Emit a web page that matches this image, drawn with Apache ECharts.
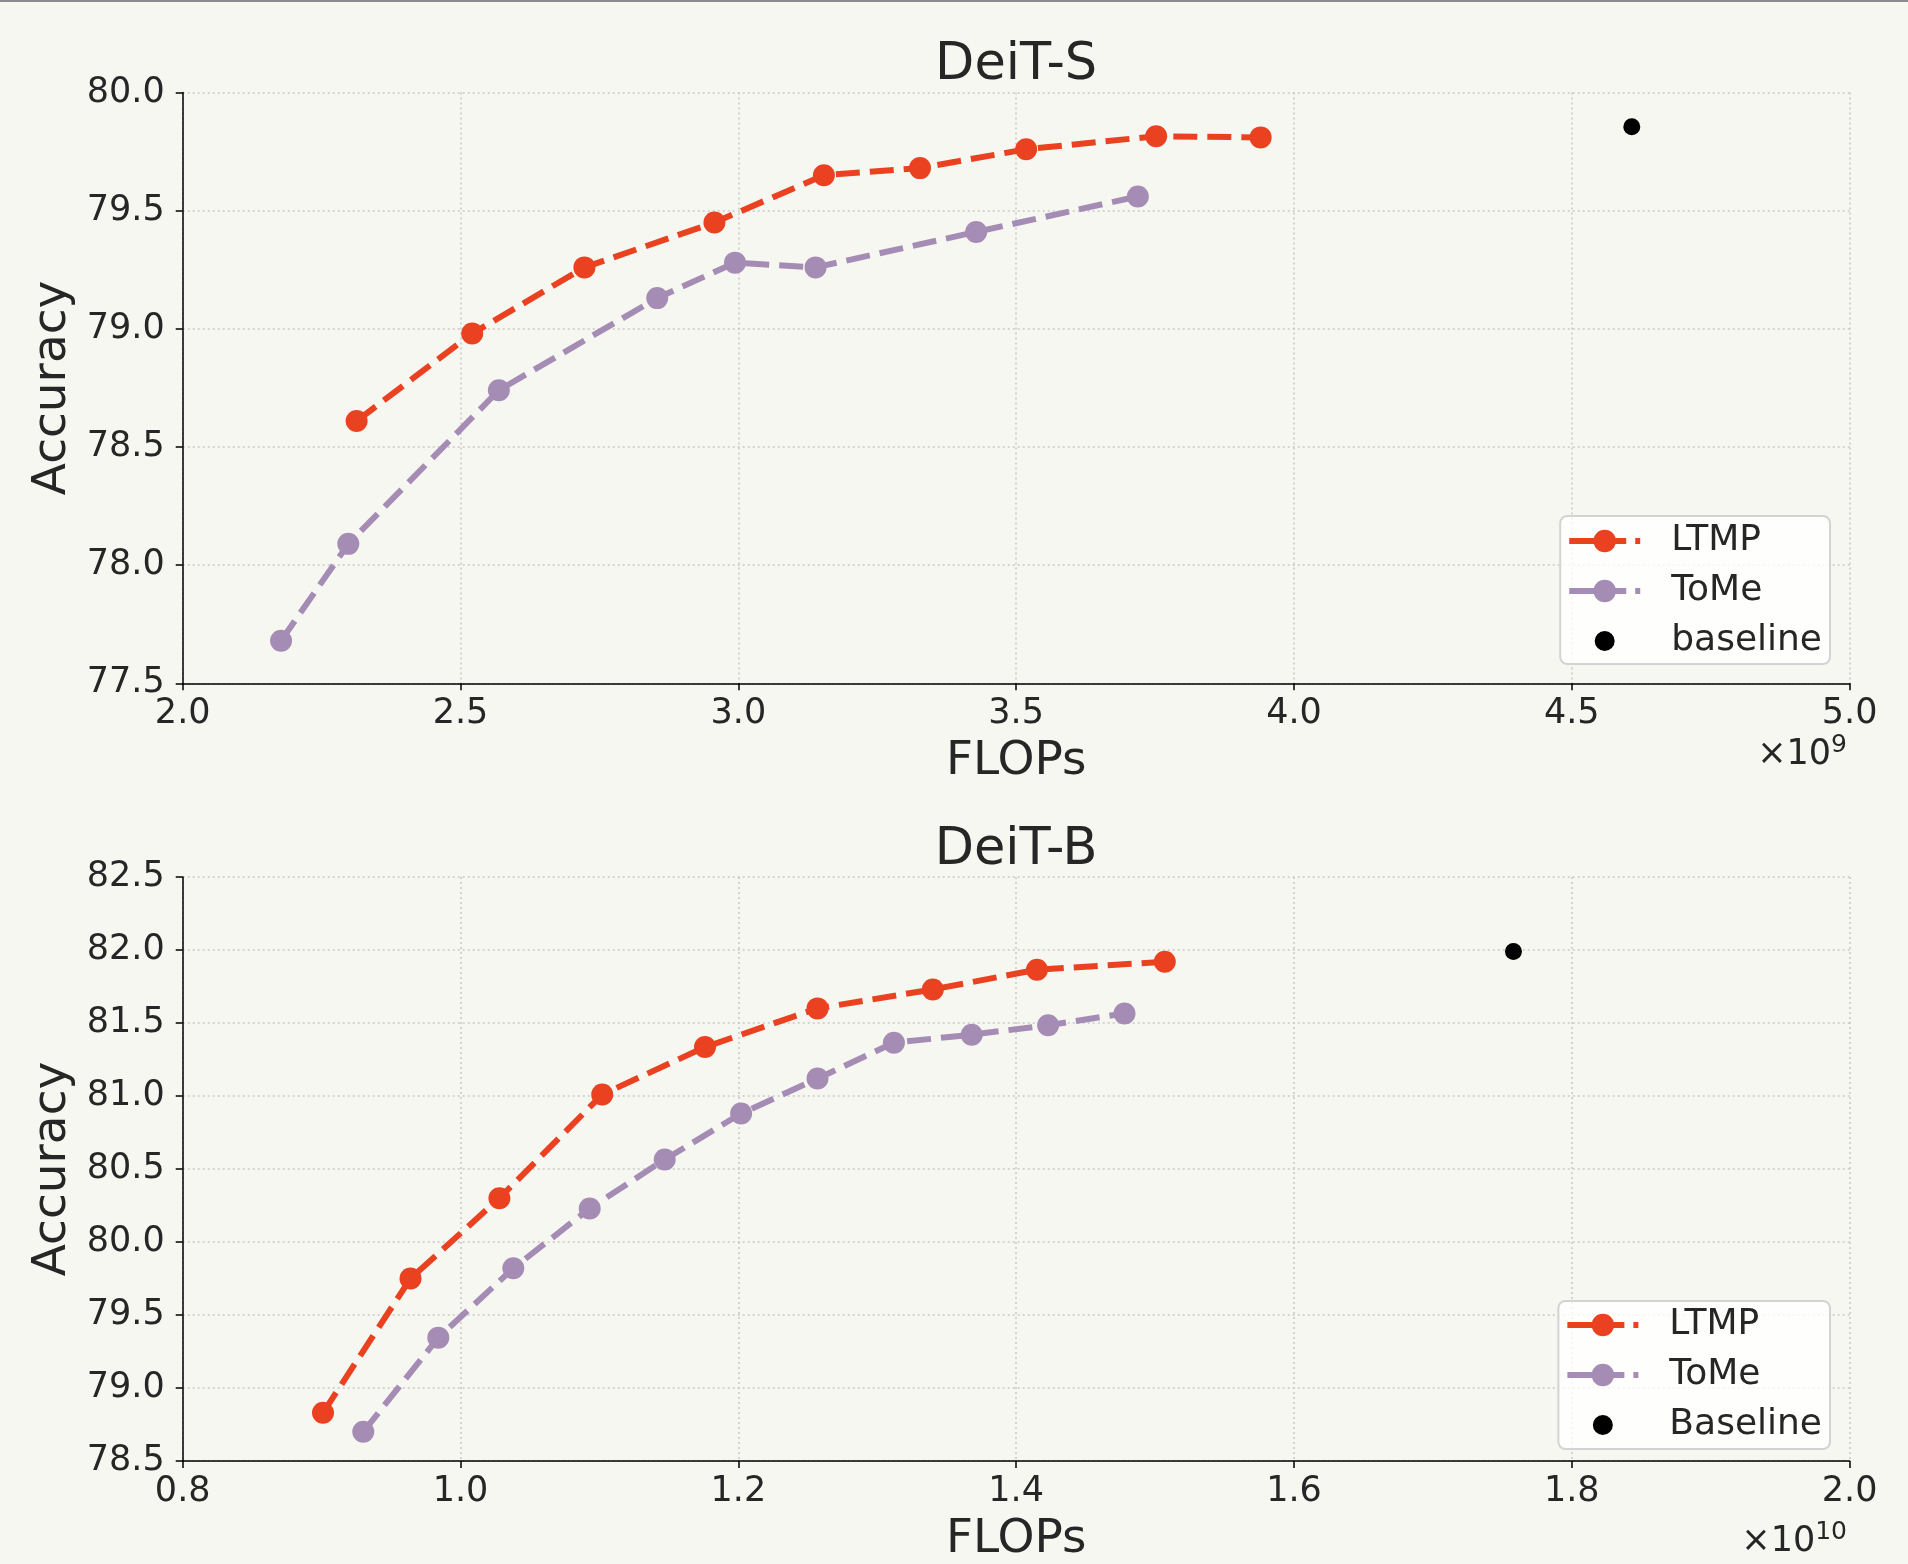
<!DOCTYPE html>
<html>
<head>
<meta charset="utf-8">
<script src="https://cdn.jsdelivr.net/npm/echarts@6/dist/echarts.min.js"></script>
<style>
html,body{margin:0;padding:0;background:#f7f7f2;}
#chart{width:1908px;height:1564px;}
</style>
</head>
<body>
<div id="chart"></div>
<script>
// ---- DeiT-S (FLOPs in units of 1e9) ----
const sLtmpX = [2.313, 2.521, 2.723, 2.957, 3.154, 3.327, 3.518, 3.752, 3.940];
const sLtmpY = [78.61, 78.98, 79.26, 79.45, 79.65, 79.68, 79.76, 79.815, 79.81];
const sTomeX = [2.177, 2.298, 2.569, 2.854, 2.994, 3.139, 3.428, 3.719];
const sTomeY = [77.68, 78.09, 78.74, 79.13, 79.28, 79.26, 79.41, 79.56];
const sBaseX = [4.608];
const sBaseY = [79.855];
const sXTicks = {min: 2.0, max: 5.0, interval: 0.5};
const sYTicks = {min: 77.5, max: 80.0, interval: 0.5};

// ---- DeiT-B (FLOPs in units of 1e10) ----
const bLtmpX = [0.901, 0.964, 1.028, 1.102, 1.176, 1.257, 1.340, 1.415, 1.507];
const bLtmpY = [78.83, 79.75, 80.30, 81.01, 81.335, 81.60, 81.73, 81.865, 81.92];
const bTomeX = [0.930, 0.984, 1.038, 1.093, 1.147, 1.202, 1.257, 1.312, 1.368, 1.423, 1.478];
const bTomeY = [78.70, 79.345, 79.82, 80.23, 80.565, 80.88, 81.12, 81.365, 81.42, 81.485, 81.565];
const bBaseX = [1.758];
const bBaseY = [81.99];
const bXTicks = {min: 0.8, max: 2.0, interval: 0.2};
const bYTicks = {min: 78.5, max: 82.5, interval: 0.5};

const titles = ['DeiT-S', 'DeiT-B'];
const xName = 'FLOPs';
const yName = 'Accuracy';
const scaleExp = ['9', '10'];
const baseNames = ['baseline', 'Baseline'];

const zip = (xs, ys) => xs.map((x, i) => [x, ys[i]]);

const RED = '#ea4220';
const PURPLE = '#a58cb5';
const TXT = '#262626';
const FONT = 'DejaVu Sans';
const GRID_L = 182.7, GRID_R = 58.4;
const PLOT_CX = (GRID_L + (1908 - GRID_R)) / 2;

function xAxis(idx, t) {
  return {
    type: 'value', gridIndex: idx, min: t.min, max: t.max, interval: t.interval,
    name: xName, nameLocation: 'middle', nameGap: 55,
    nameTextStyle: {fontFamily: FONT, fontSize: 47, color: TXT},
    axisLine: {show: true, onZero: false, lineStyle: {color: '#000', width: 1.5}},
    axisTick: {show: true, inside: false, length: 7, lineStyle: {color: '#000', width: 1.5}},
    axisLabel: {fontFamily: FONT, fontSize: 35, color: TXT, margin: 13,
      formatter: v => v.toFixed(1)},
    splitLine: {show: true, lineStyle: {color: '#c8c8c8', width: 1.5, type: [2, 3]}}
  };
}
function yAxis(idx, t) {
  return {
    type: 'value', gridIndex: idx, min: t.min, max: t.max, interval: t.interval,
    name: yName, nameLocation: 'middle', nameGap: 100, nameRotate: 90,
    nameTextStyle: {fontFamily: FONT, fontSize: 47, color: TXT},
    axisLine: {show: true, onZero: false, lineStyle: {color: '#000', width: 1.5}},
    axisTick: {show: true, inside: false, length: 7, lineStyle: {color: '#000', width: 1.5}},
    axisLabel: {fontFamily: FONT, fontSize: 35, color: TXT, margin: 18,
      formatter: v => v.toFixed(1)},
    splitLine: {show: true, lineStyle: {color: '#c8c8c8', width: 1.5, type: [2, 3]}}
  };
}
function lineSeries(name, idx, data, color) {
  return {
    name: name, type: 'line', xAxisIndex: idx, yAxisIndex: idx, data: data,
    symbol: 'circle', symbolSize: 22, showSymbol: true,
    lineStyle: {color: color, width: 6, type: [24, 10]},
    itemStyle: {color: color, opacity: 1},
    emphasis: {disabled: true}, animation: false, z: 3
  };
}
function baseSeries(name, idx, data) {
  return {
    name: name, type: 'scatter', xAxisIndex: idx, yAxisIndex: idx, data: data,
    symbol: 'circle', symbolSize: 17, itemStyle: {color: '#000', opacity: 1},
    emphasis: {disabled: true}, animation: false, z: 4
  };
}
const DOT_ICON = 'path://M0,0L0.05,0M28,28L28.05,28M4,14A10,10,0,1,1,24,14A10,10,0,1,1,4,14Z';
function legend(top, baseName, pad) {
  return {
    orient: 'vertical', right: 78, top: top,
    data: [{name: 'LTMP'}, {name: 'ToMe'}, {name: baseName, icon: DOT_ICON}],
    itemWidth: 71, itemHeight: 28, itemGap: 14,
    padding: pad,
    lineStyle: {width: 6, type: [57, 9]},
    backgroundColor: 'rgba(255,255,255,0.8)', borderColor: '#d3d3d3', borderWidth: 2, borderRadius: 7,
    textStyle: {fontFamily: FONT, fontSize: 36, color: TXT, padding: [0, 0, 0, 26]},
    selectedMode: false
  };
}
function scaleLabel(top, exp) {
  return {
    type: 'text', right: 61, top: top,
    style: {
      text: '{a|×10}{b|' + exp + '}',
      rich: {
        a: {fontFamily: FONT, fontSize: 35, fill: TXT, verticalAlign: 'bottom'},
        b: {fontFamily: FONT, fontSize: 25, fill: TXT, verticalAlign: 'top', padding: [0, 0, 14, 0]}
      }
    }
  };
}

const chart = echarts.init(document.getElementById('chart'), null, {renderer: 'canvas'});
chart.setOption({
  backgroundColor: '#f7f7f2',
  animation: false,
  title: [
    {text: titles[0], left: PLOT_CX, textAlign: 'center', top: 40, padding: 0,
     textStyle: {fontFamily: FONT, fontSize: 51, fontWeight: 'normal', color: TXT}},
    {text: titles[1], left: PLOT_CX, textAlign: 'center', top: 825, padding: 0,
     textStyle: {fontFamily: FONT, fontSize: 51, fontWeight: 'normal', color: TXT}}
  ],
  grid: [
    {left: GRID_L, right: GRID_R, top: 92.5, height: 590.8},
    {left: GRID_L, right: GRID_R, top: 877, height: 591}
  ],
  xAxis: [xAxis(0, sXTicks), xAxis(1, bXTicks)],
  yAxis: [yAxis(0, sYTicks), yAxis(1, bYTicks)],
  legend: [legend(516, baseNames[0], [7, 8, 5, 6]), legend(1301, baseNames[1], [6, 8, 6, 6])],
  series: [
    lineSeries('LTMP', 0, zip(sLtmpX, sLtmpY), RED),
    lineSeries('ToMe', 0, zip(sTomeX, sTomeY), PURPLE),
    baseSeries(baseNames[0], 0, zip(sBaseX, sBaseY)),
    lineSeries('LTMP', 1, zip(bLtmpX, bLtmpY), RED),
    lineSeries('ToMe', 1, zip(bTomeX, bTomeY), PURPLE),
    baseSeries(baseNames[1], 1, zip(bBaseX, bBaseY))
  ],
  graphic: [
    {type: 'rect', left: 0, top: 0, shape: {width: 1908, height: 2}, style: {fill: '#8c8c8c'}},
    scaleLabel(733, scaleExp[0]),
    scaleLabel(1520, scaleExp[1])
  ]
});
</script>
</body>
</html>
